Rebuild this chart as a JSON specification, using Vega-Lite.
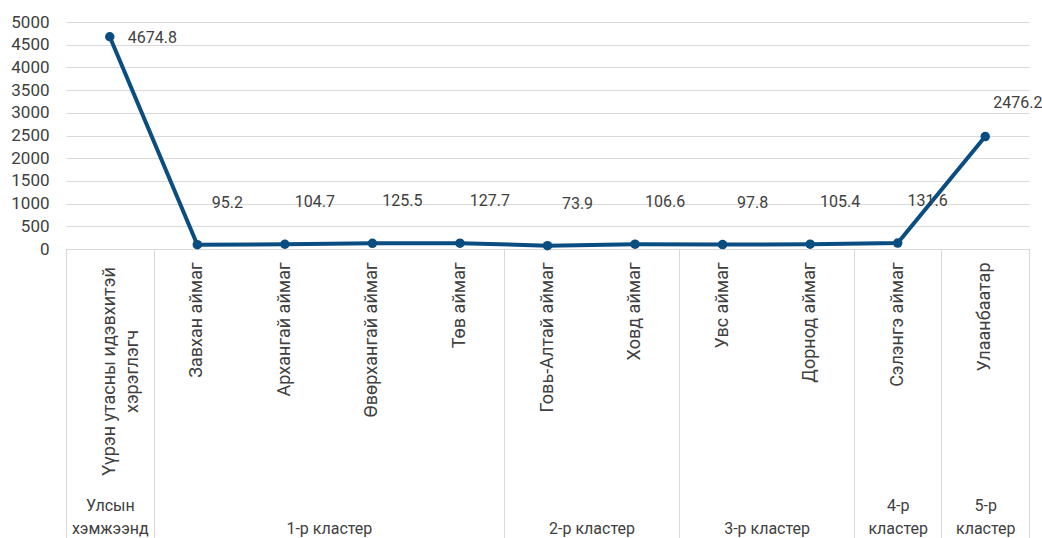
{
  "$schema": "https://vega.github.io/schema/vega-lite/v6.json",
  "width": 963,
  "height": 227,
  "autosize": {"type": "none"},
  "padding": {"left": 66, "top": 22, "right": 13, "bottom": 289},
  "config": {"view": {"stroke": null}, "font": "Roboto"},
  "data": {"values": [
    {"name": "Үүрэн утасны идэвхитэй хэрэглэгч", "cluster": "Улсын хэмжээнд", "value": 4674.8},
    {"name": "Завхан аймаг", "cluster": "1-р кластер", "value": 95.2},
    {"name": "Архангай аймаг", "cluster": "1-р кластер", "value": 104.7},
    {"name": "Өвөрхангай аймаг", "cluster": "1-р кластер", "value": 125.5},
    {"name": "Төв аймаг", "cluster": "1-р кластер", "value": 127.7},
    {"name": "Говь-Алтай аймаг", "cluster": "2-р кластер", "value": 73.9},
    {"name": "Ховд аймаг", "cluster": "2-р кластер", "value": 106.6},
    {"name": "Увс аймаг", "cluster": "3-р кластер", "value": 97.8},
    {"name": "Дорнод аймаг", "cluster": "3-р кластер", "value": 105.4},
    {"name": "Сэлэнгэ аймаг", "cluster": "4-р кластер", "value": 131.6},
    {"name": "Улаанбаатар", "cluster": "5-р кластер", "value": 2476.2}
  ]},
  "resolve": {"axis": {"x": "independent", "y": "independent"}},
  "layer": [
    {
      "mark": {"type": "line", "color": "#0a4d80", "strokeWidth": 4},
      "encoding": {
        "x": {"field": "name", "type": "nominal", "sort": null,
          "scale": {"type": "band", "paddingInner": 0, "paddingOuter": 0},
          "axis": {"orient": "bottom", "title": null, "domain": true, "domainColor": "#d9d9d9", "ticks": false, "grid": false,
            "labelAngle": -90,
            "labelAlign": {"condition": {"test": "datum.value == 'Үүрэн утасны идэвхитэй хэрэглэгч'", "value": "center"}, "value": "right"},
            "labelBaseline": "middle",
            "labelPadding": {"condition": {"test": "datum.value == 'Үүрэн утасны идэвхитэй хэрэглэгч'", "value": 122}, "value": 13},
            "labelExpr": "datum.value == 'Үүрэн утасны идэвхитэй хэрэглэгч' ? ['Үүрэн утасны идэвхитэй', 'хэрэглэгч'] : datum.label",
            "labelFontSize": 18, "labelColor": "#404040", "labelLineHeight": 23, "labelOverlap": false, "labelLimit": 0, "labelBound": false}},
        "y": {"field": "value", "type": "quantitative",
          "scale": {"domain": [0, 5000], "nice": false},
          "axis": {"title": null, "domain": false, "ticks": false, "grid": true, "gridColor": "#d9d9d9", "gridWidth": 1,
            "values": [0, 500, 1000, 1500, 2000, 2500, 3000, 3500, 4000, 4500, 5000], "format": "d",
            "labelPadding": 17, "labelFontSize": 17, "labelColor": "#404040"}}
      }
    },
    {
      "mark": {"type": "point", "filled": true, "opacity": 1, "color": "#0a4d80", "size": 90},
      "encoding": {
        "x": {"field": "name", "type": "nominal", "sort": null, "axis": null},
        "y": {"field": "value", "type": "quantitative", "axis": null}
      }
    },
    {
      "transform": [{"filter": "datum.value < 1000"}],
      "mark": {"type": "text", "dx": 30, "dy": -42, "fontSize": 16, "color": "#404040"},
      "encoding": {
        "x": {"field": "name", "type": "nominal", "sort": null,
          "axis": {"orient": "bottom", "title": null, "domain": false, "grid": false,
            "ticks": true, "tickBand": "extent", "tickSize": 289, "tickColor": "#d9d9d9", "tickWidth": 1,
            "tickOpacity": {"condition": {"test": "datum.extra || indexof(['Үүрэн утасны идэвхитэй хэрэглэгч','Төв аймаг','Ховд аймаг','Дорнод аймаг','Сэлэнгэ аймаг','Улаанбаатар'], datum.value) >= 0", "value": 1}, "value": 0},
            "labelAngle": 0, "labelAlign": "center", "labelBaseline": "bottom",
            "labelPadding": {"condition": {"test": "indexof(['Үүрэн утасны идэвхитэй хэрэглэгч','Сэлэнгэ аймаг','Улаанбаатар'], datum.value) >= 0", "value": -25}, "value": -2},
            "labelLineHeight": 23,
            "labelExpr": "datum.value == 'Үүрэн утасны идэвхитэй хэрэглэгч' ? ['Улсын', 'хэмжээнд'] : datum.value == 'Архангай аймаг' ? '1-р кластер' : datum.value == 'Говь-Алтай аймаг' ? '2-р кластер' : datum.value == 'Увс аймаг' ? '3-р кластер' : datum.value == 'Сэлэнгэ аймаг' ? ['4-р', 'кластер'] : datum.value == 'Улаанбаатар' ? ['5-р', 'кластер'] : ''",
            "labelOffset": {"condition": {"test": "indexof(['Архангай аймаг','Говь-Алтай аймаг','Увс аймаг'], datum.value) >= 0", "value": 44}, "value": 0},
            "labelFontSize": 16, "labelColor": "#404040", "labelOverlap": false, "labelBound": false, "labelLimit": 0}},
        "y": {"field": "value", "type": "quantitative", "axis": null},
        "text": {"field": "value", "type": "quantitative", "format": ".1f"}
      }
    },
    {
      "transform": [{"filter": "datum.value > 1000 && datum.value < 4000"}],
      "mark": {"type": "text", "align": "left", "dx": 8, "dy": -34, "fontSize": 16, "color": "#404040"},
      "encoding": {
        "x": {"field": "name", "type": "nominal", "sort": null, "axis": null},
        "y": {"field": "value", "type": "quantitative", "axis": null},
        "text": {"field": "value", "type": "quantitative", "format": ".1f"}
      }
    },
    {
      "transform": [{"filter": "datum.value > 4000"}],
      "mark": {"type": "text", "align": "left", "dx": 18, "dy": 1, "fontSize": 16, "color": "#404040"},
      "encoding": {
        "x": {"field": "name", "type": "nominal", "sort": null, "axis": null},
        "y": {"field": "value", "type": "quantitative", "axis": null},
        "text": {"field": "value", "type": "quantitative", "format": ".1f"}
      }
    }
  ]
}
